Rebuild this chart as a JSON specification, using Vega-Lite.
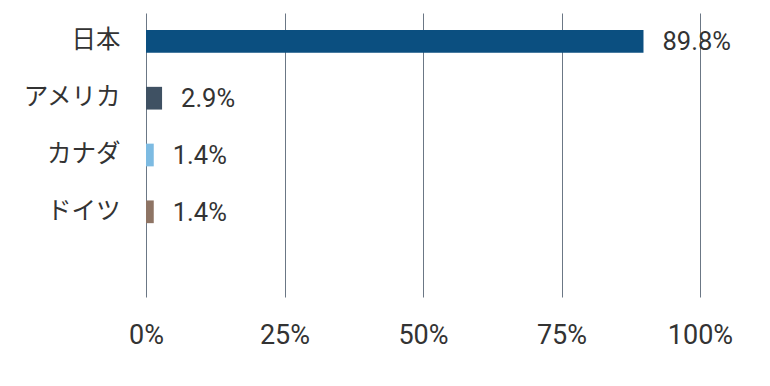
{
  "$schema": "https://vega.github.io/schema/vega-lite/v6.json",
  "autosize": "none",
  "width": 554,
  "height": 284,
  "padding": {"left": 146, "top": 13, "right": 70, "bottom": 89},
  "background": "white",
  "config": {"view": {"stroke": null}},
  "data": {"values": [
    {"country": "日本", "share": 0.898},
    {"country": "アメリカ", "share": 0.029},
    {"country": "カナダ", "share": 0.014},
    {"country": "ドイツ", "share": 0.014}
  ]},
  "encoding": {
    "y": {"field": "country", "type": "nominal",
      "scale": {"domain": ["日本", "アメリカ", "カナダ", "ドイツ", " "], "paddingInner": 0.6, "paddingOuter": 0.3},
      "axis": {"title": null, "domain": false, "ticks": false, "labelPadding": 26, "labelFont": "Noto Sans CJK JP", "labelFontSize": 24.5, "labelColor": "#333333", "labelLimit": 200}},
    "x": {"field": "share", "type": "quantitative",
      "scale": {"domain": [0, 1], "nice": false},
      "axis": {"title": null, "values": [0, 0.25, 0.5, 0.75, 1], "format": ".0%", "domain": false, "ticks": false, "grid": true, "gridColor": "#6b7785", "gridWidth": 1, "labelPadding": 25, "labelFont": "Roboto", "labelFontSize": 27, "labelColor": "#333333", "labelFlush": false}}
  },
  "layer": [
    {"mark": {"type": "bar"},
     "encoding": {"color": {"field": "country", "type": "nominal", "legend": null,
       "scale": {"domain": ["日本", "アメリカ", "カナダ", "ドイツ"], "range": ["#0b4f80", "#3f5163", "#7dbbe2", "#8e7464"]}}}},
    {"mark": {"type": "text", "align": "left", "baseline": "middle", "dx": 19, "dy": 1, "font": "Roboto", "fontSize": 25.5, "color": "#333333"},
     "encoding": {"text": {"field": "share", "type": "quantitative", "format": ".1%"}}}
  ]
}
